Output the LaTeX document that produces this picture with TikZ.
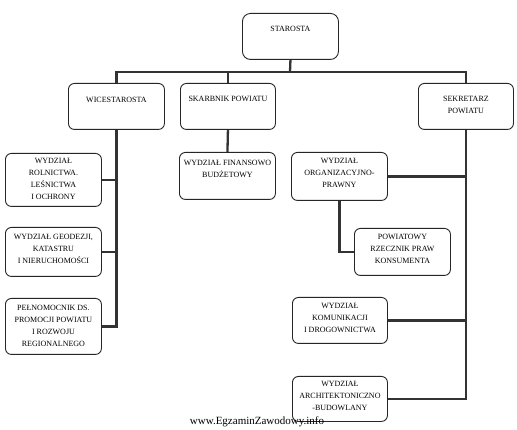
\documentclass[tikz,border=0pt]{standalone}
\usepackage{fontspec}
\setmainfont{Liberation Serif}
\newcommand{\bxc}[4]{\parbox[c][#2pt][t]{#1pt}{\centering\vspace*{#3pt}#4\par}}
\begin{document}
\begin{tikzpicture}[x=1pt,y=-1pt,
  orgbox/.style={draw=black!85, line width=0.9pt, rounded corners=6pt, inner sep=0pt, anchor=north west,
     font=\fontsize{8}{12}\selectfont},
  conn/.style={draw=black!80, line width=2.3pt}]
\fill[white] (0,0) rectangle (517,430);
\useasboundingbox (0,0) rectangle (517,430);
% boxes
\node[orgbox, rounded corners=8pt] (staro) at (242,13) {\bxc{96}{46}{13}{STAROSTA}};
\node[orgbox] (wice) at (68,83) {\bxc{96}{46}{14}{WICESTAROSTA}};
\node[orgbox] (skarb) at (180,83) {\bxc{95}{46}{13}{SKARBNIK POWIATU}};
\node[orgbox] (sekr) at (418,83) {\bxc{95}{46}{12.5}{SEKRETARZ\\POWIATU}};
\node[orgbox] (roln) at (5,153) {\bxc{96}{53}{5}{WYDZIAŁ\\ROLNICTWA.\\LEŚNICTWA\\I OCHRONY}};
\node[orgbox] (geod) at (5,227) {\bxc{96}{49}{7}{WYDZIAŁ GEODEZJI,\\KATASTRU\\I NIERUCHOMOŚCI}};
\node[orgbox] (pelno) at (5,298) {\bxc{96}{56}{7}{PEŁNOMOCNIK DS.\\PROMOCJI POWIATU\\I ROZWOJU\\REGIONALNEGO}};
\node[orgbox] (finans) at (179,152) {\bxc{96}{47}{8}{WYDZIAŁ FINANSOWO\\BUDŻETOWY}};
\node[orgbox] (organ) at (291,152) {\bxc{96}{48}{6}{WYDZIAŁ\\ORGANIZACYJNO-\\PRAWNY}};
\node[orgbox] (rzecz) at (354,228) {\bxc{96}{47}{5.5}{POWIATOWY\\RZECZNIK PRAW\\KONSUMENTA}};
\node[orgbox] (komun) at (292,297) {\bxc{95}{46}{6}{WYDZIAŁ\\KOMUNIKACJI\\I DROGOWNICTWA}};
\node[orgbox] (archi) at (292,376) {\bxc{95}{45}{5}{WYDZIAŁ\\ARCHITEKTONICZNO\\-BUDOWLANY}};
% connectors
\coordinate (bar) at (290,72);
\draw[conn] (staro.south) -- (bar);
\draw[conn] (wice.north) |- (bar) -| (sekr.north);
\draw[conn] (skarb.north) -- (skarb.north |- bar);
\draw[conn] (wice.south) |- (pelno.east);
\draw[conn] (roln.east) -- (roln.east -| wice.south);
\draw[conn] (geod.east) -- (geod.east -| wice.south);
\draw[conn] (skarb.south) -- (finans.north);
\draw[conn] (sekr.south) |- (archi.east);
\draw[conn] (organ.east) -- (organ.east -| sekr.south);
\draw[conn] (komun.east) -- (komun.east -| sekr.south);
\draw[conn] (organ.south) |- (rzecz.west);
% watermark
\node[font=\fontsize{11}{13}\selectfont, inner sep=0pt] (wm) at (257,422) {www.EgzaminZawodowy.info};
\end{tikzpicture}
\end{document}
